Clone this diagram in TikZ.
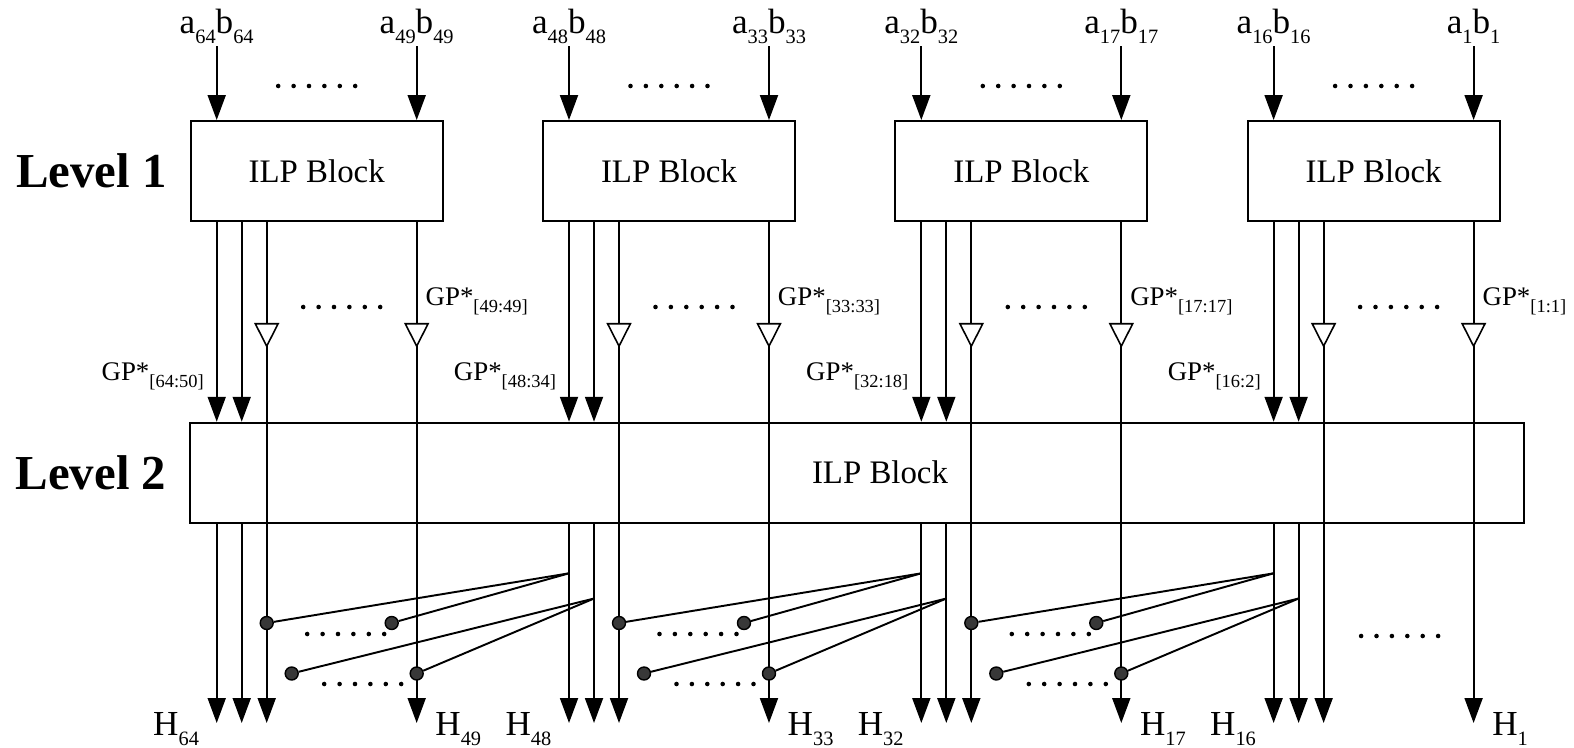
\documentclass[tikz,border=0pt]{standalone}
\usepackage{fontspec}
\setmainfont{Liberation Serif}
\usepackage{tikz}
\usetikzlibrary{arrows.meta, positioning, calc, decorations.markings}

\newcommand\iosub[1]{\raisebox{-6pt}{\fontsize{11.6}{12}\selectfont #1}}
\newcommand\gpsub[1]{\raisebox{-4.5pt}{\fontsize{10.5}{11}\selectfont #1}}

\tikzset{
    ellip/.pic={\foreach \k in {-2.5,-1.5,...,2.5} \fill (\k*15.4,0) circle (1.3pt);}
}

\begin{document}
\begin{tikzpicture}[
    x=0.02cm, y=-0.02cm,
    line width=1.1pt,
    ilp/.style={rectangle, draw, minimum width=5.04cm, minimum height=2cm, font=\fontsize{18.7}{20}\selectfont},
    level/.style={font=\fontsize{27.8}{30}\selectfont\bfseries, inner sep=0pt},
    io/.style={font=\fontsize{20}{22}\selectfont, inner sep=1pt},
    gp/.style={font=\fontsize{15.3}{17}\selectfont, inner sep=0pt},
    joint/.style={circle, draw, fill=black!78, line width=0.8pt, minimum size=0.26cm, inner sep=0pt},
    arrow/.style={-{Triangle[length=0.5cm, width=0.36cm]}},
    gpline/.style={arrow, postaction={decorate}, decoration={markings, mark=at position 2.52cm with {\arrow{Triangle[open, fill=white, length=0.5cm, width=0.5cm, line width=0.9pt]}}}}
]
    \useasboundingbox (0,0) rectangle (1574,747);

    % Level 2 block
    \node (lvl2) [ilp, minimum width=26.68cm, label={[font=\fontsize{18.7}{20}\selectfont, xshift=0.46cm]center:ILP Block}] at (857,472.7) {};
    \coordinate (bot) at (0,723);
    \coordinate (jrow1) at (0,573.3);
    \coordinate (jrow2) at (0,598.5);
    \coordinate (row1) at (0,623);
    \coordinate (row2) at (0,673.5);

    % Level 1 blocks with their inputs and outputs
    \foreach \i/\na/\nb/\gpl/\gpr in {1/64/49/64:50/49:49, 2/48/33/48:34/33:33, 3/32/17/32:18/17:17, 4/16/1/16:2/1:1} {
        \pgfmathsetmacro\cx{316.7+352.3*(\i-1)}
        \node (b\i) [ilp] at (\cx,171) {ILP Block};

        \node (ina\i) [io, anchor=base] at (\cx-100,33) {a\iosub{\na}b\iosub{\na}};
        \node (inb\i) [io, anchor=base] at (\cx+100,33) {a\iosub{\nb}b\iosub{\nb}};
        \draw [arrow] (ina\i) -- (ina\i |- b\i.north);
        \draw [arrow] (inb\i) -- (inb\i |- b\i.north);
        \pic at (\cx,86) {ellip};

        \draw [arrow] ([xshift=-2cm]b\i.south) -- ([xshift=-2cm]b\i.south |- lvl2.north);
        \draw [arrow] ([xshift=-1.5cm]b\i.south) -- ([xshift=-1.5cm]b\i.south |- lvl2.north);
        \draw [gpline] ([xshift=-1cm]b\i.south) -- ([xshift=-1cm]b\i.south |- bot);
        \draw [gpline] ([xshift=2cm]b\i.south) -- ([xshift=2cm]b\i.south |- bot);
        \pic at (\cx+25,307) {ellip};

        \node [gp, anchor=base east] at (\cx-112,380) {GP*\gpsub{[\gpl]}};
        \node [gp, anchor=base west] at (\cx+108,305) {GP*\gpsub{[\gpr]}};

        \draw [arrow] ([xshift=-2cm]b\i.south |- lvl2.south) -- ([xshift=-2cm]b\i.south |- bot);
        \draw [arrow] ([xshift=-1.5cm]b\i.south |- lvl2.south) -- ([xshift=-1.5cm]b\i.south |- bot);

        \node [io, anchor=base east] at (\cx-115,735) {H\iosub{\na}};
        \node [io, anchor=base west] at (\cx+116,735) {H\iosub{\nb}};
    }

    % Level labels
    \node (lv1) [level, left=0.44cm of b1] {Level 1};
    \node (lv2) [level, left=0.44cm of lvl2] {Level 2};

    % Carry taps between groups
    \foreach \i in {1,2,3} {
        \pgfmathtruncatemacro\j{\i+1}
        \pgfmathsetmacro\cx{316.7+352.3*(\i-1)}
        \node (p\i) [joint] at ([xshift=-1cm]b\i.south |- row1) {};
        \node (q\i) [joint] at ([xshift=1.5cm]b\i.south |- row1) {};
        \node (r\i) [joint] at ([xshift=-0.5cm]b\i.south |- row2) {};
        \node (s\i) [joint] at ([xshift=2cm]b\i.south |- row2) {};
        \coordinate (u\i) at ([xshift=-2cm]b\j.south |- jrow1);
        \coordinate (v\i) at ([xshift=-1.5cm]b\j.south |- jrow2);
        \draw (u\i) -- (p\i);
        \draw (u\i) -- (q\i);
        \draw (v\i) -- (r\i);
        \draw (v\i) -- (s\i);
        \pic at (\cx+29,634) {ellip};
        \pic at (\cx+46,684) {ellip};
    }
    \pic at (1399.6,636) {ellip};
\end{tikzpicture}
\end{document}
